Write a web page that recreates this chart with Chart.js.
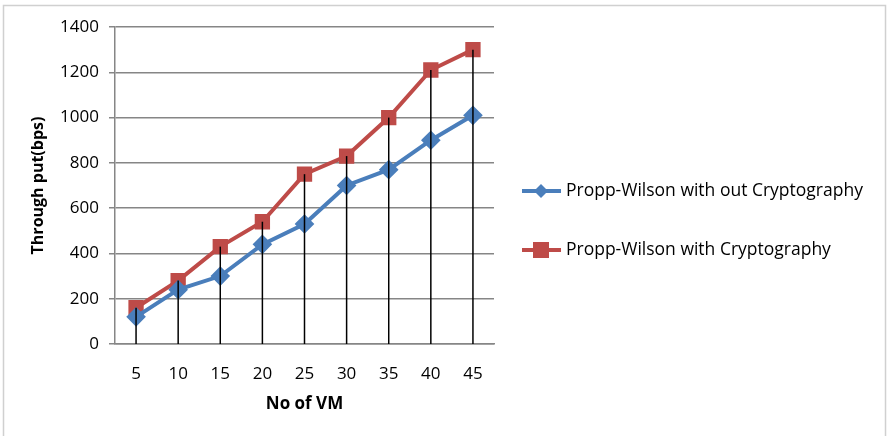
<!DOCTYPE html>
<html>
<head>
<meta charset="utf-8">
<script src="https://cdn.jsdelivr.net/npm/chart.js@4"></script>
<style>
  html, body { margin: 0; padding: 0; background: #fff; }
  #wrap { width: 889px; height: 436px; position: relative; }
</style>
</head>
<body>
<div id="wrap"><canvas id="throughputChart" width="889" height="436"></canvas></div>
<script>
const vmCounts = ["5", "10", "15", "20", "25", "30", "35", "40", "45"];
const withoutCrypto = [120, 240, 300, 440, 530, 700, 770, 900, 1010];
const withCrypto = [160, 280, 430, 540, 750, 830, 1000, 1210, 1300];
const seriesNames = ["Propp-Wilson with out Cryptography", "Propp-Wilson with Cryptography"];

const FONT = "'Open Sans', 'Liberation Sans', sans-serif";

// light frame round the whole chart
const framePlugin = {
  id: "frame",
  beforeDraw(chart) {
    const ctx = chart.ctx;
    ctx.save();
    ctx.strokeStyle = "#d0d0d0";
    ctx.lineWidth = 1.5;
    ctx.strokeRect(3.5, 5.5, 882, 440);
    ctx.restore();
  },
};

// black drop lines from the highest point down to the x axis
const dropLinesPlugin = {
  id: "dropLines",
  afterDatasetsDraw(chart) {
    const ctx = chart.ctx;
    const x = chart.scales.x;
    const y = chart.scales.y;
    ctx.save();
    ctx.strokeStyle = "#000";
    ctx.lineWidth = 1.5;
    vmCounts.forEach((c, i) => {
      const top = Math.max(withoutCrypto[i], withCrypto[i]);
      const px = x.getPixelForValue(i);
      ctx.beginPath();
      ctx.moveTo(px, y.getPixelForValue(top));
      ctx.lineTo(px, y.getPixelForValue(0));
      ctx.stroke();
    });
    ctx.restore();
  },
};

// legend on the right, line + marker like the original
const sideLegendPlugin = {
  id: "sideLegend",
  afterDraw(chart) {
    const ctx = chart.ctx;
    const rows = [191, 250];
    ctx.save();
    chart.data.datasets.forEach((ds, i) => {
      const yy = rows[i];
      ctx.strokeStyle = ds.borderColor;
      ctx.lineWidth = 4;
      ctx.beginPath();
      ctx.moveTo(522, yy);
      ctx.lineTo(561, yy);
      ctx.stroke();
      ctx.fillStyle = ds.pointBackgroundColor;
      if (ds.pointStyle === "rect") {
        ctx.fillRect(533, yy - 8, 16, 16);
      } else {
        ctx.beginPath();
        ctx.moveTo(541, yy - 7);
        ctx.lineTo(548, yy);
        ctx.lineTo(541, yy + 7);
        ctx.lineTo(534, yy);
        ctx.closePath();
        ctx.fill();
      }
      ctx.fillStyle = "#000";
      ctx.font = "17.5px " + FONT;
      ctx.textBaseline = "middle";
      ctx.fillText(ds.label, 566, yy);
    });
    ctx.restore();
  },
};

new Chart(document.getElementById("throughputChart"), {
  type: "line",
  data: {
    labels: vmCounts,
    datasets: [
      {
        label: seriesNames[0],
        data: withoutCrypto,
        borderColor: "#4a7ebb",
        backgroundColor: "#4a7ebb",
        pointBackgroundColor: "#4a7ebb",
        pointBorderColor: "#4a7ebb",
        pointStyle: "rectRot",
        pointRadius: 7,
        borderWidth: 4,
        tension: 0,
      },
      {
        label: seriesNames[1],
        data: withCrypto,
        borderColor: "#be4b48",
        backgroundColor: "#be4b48",
        pointBackgroundColor: "#be4b48",
        pointBorderColor: "#be4b48",
        pointStyle: "rect",
        pointRadius: 8,
        borderWidth: 4,
        tension: 0,
      },
    ],
  },
  options: {
    responsive: false,
    animation: false,
    layout: { padding: { left: 29, right: 395, top: 27, bottom: 0 } },
    plugins: {
      legend: { display: false },
      tooltip: { enabled: false },
    },
    scales: {
      x: {
        offset: true,
        grid: { display: false },
        border: { display: true, color: "#868686", width: 1.5 },
        ticks: { color: "#000", font: { family: FONT, size: 17 }, padding: 12 },
        title: {
          display: true,
          text: "No of VM",
          color: "#000",
          font: { family: FONT, size: 17, weight: "bold" },
          padding: { top: 6, bottom: 22 },
        },
        afterFit(scale) { scale.height = 92; },
      },
      y: {
        min: 0,
        max: 1400,
        ticks: {
          stepSize: 200,
          color: "#000",
          font: { family: FONT, size: 17 },
          padding: 10,
          callback: (v) => String(v),
        },
        grid: { color: "#868686", lineWidth: 1.5, tickLength: 6, drawTicks: true },
        border: { display: true, color: "#868686", width: 1.5 },
        title: {
          display: true,
          text: "Through put(bps)",
          color: "#000",
          font: { family: FONT, size: 16, weight: "bold" },
          padding: 0,
        },
        afterFit(scale) { scale.width = 86; },
      },
    },
  },
  plugins: [framePlugin, dropLinesPlugin, sideLegendPlugin],
});
</script>
</body>
</html>
